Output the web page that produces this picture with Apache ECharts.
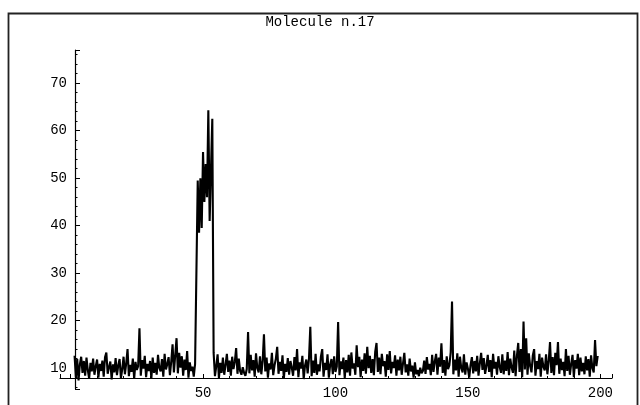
<!DOCTYPE html>
<html>
<head>
<meta charset="utf-8">
<script src="https://cdn.jsdelivr.net/npm/echarts@6/dist/echarts.min.js"></script>
<style>
  html, body { margin: 0; padding: 0; background: #fff; }
  #chart { width: 640px; height: 405px; }
</style>
</head>
<body>
<div id="chart"></div>
<script>
// Sampling grid of the trace: x = X_START + i * X_STEP
const X_START = 1.5;
const X_STEP = 0.5;

// Signal before the burst (x = 1.5 .. 47.5)
const signalBefore = [
  12.6, 8.1, 11.9, 7.4, 10.8, 12.4, 9.0, 11.5, 8.4, 12.2, 9.6, 7.8, 11.1, 9.3, 12.0, 8.6, 10.4, 11.8, 8.0, 10.9,
  9.4, 11.6, 8.2, 12.3, 13.3, 8.8, 10.2, 11.4, 7.6, 10.8, 9.1, 12.1, 8.5, 10.6, 11.9, 7.9, 9.8, 12.4, 8.7, 11.0,
  14.0, 8.3, 10.7, 9.2, 12.0, 7.7, 11.3, 9.6, 10.4, 18.4, 8.4, 11.7, 9.9, 12.6, 8.1, 10.9, 9.4, 11.5, 7.8, 12.2,
  9.0, 11.1, 8.6, 12.8, 10.0, 9.3, 11.9, 8.2, 13.0, 9.7, 10.8, 12.3, 8.5, 11.4, 15.0, 9.1, 12.7, 16.3, 8.9, 13.2,
  10.1, 12.5, 8.4, 11.8, 9.6, 13.6, 8.0, 11.2, 9.4, 10.3, 8.2, 10.9, 11.0
];

// The burst (x = 48 .. 53.5)
const signalBurst = [
  49.5, 38.5, 50.0, 39.5, 55.5, 45.0, 53.0, 46.0, 64.3, 41.0, 52.0, 62.5
];

// Signal after the burst (x = 54 .. 199)
const signalAfter = [
  13.2, 8.3, 10.4, 12.9, 7.9, 11.1, 9.0, 12.2, 8.6, 10.7, 13.0, 9.2, 11.6, 8.4, 12.4, 9.8, 11.3, 14.2, 8.8, 12.0,
  9.4, 8.6, 10.2, 9.0, 8.4, 9.8, 17.6, 8.9, 12.8, 9.5, 11.7, 8.2, 13.1, 10.0, 9.1, 12.5, 8.7, 11.4, 17.1, 9.3,
  12.2, 8.0, 11.0, 9.7, 13.2, 8.5, 10.6, 12.0, 14.5, 8.8, 11.3, 9.4, 12.7, 7.8, 10.9, 9.2, 12.1, 8.6, 11.5, 10.1,
  8.4, 12.3, 9.5, 14.0, 8.1, 11.2, 9.9, 12.6, 7.7, 10.5, 11.8, 8.9, 12.0, 18.7, 8.3, 11.6, 9.0, 13.0, 8.6, 10.8,
  9.3, 12.4, 14.0, 8.2, 11.1, 9.6, 12.9, 8.0, 10.7, 11.9, 8.7, 12.5, 9.2, 10.3, 19.7, 8.5, 11.4, 9.8, 12.2, 7.9,
  11.7, 9.1, 12.8, 8.4, 13.3, 9.9, 11.0, 8.6, 14.8, 10.2, 12.4, 8.1, 11.8, 9.4, 13.1, 8.8, 14.5, 10.0, 12.6, 9.0,
  11.9, 8.5, 13.4, 15.3, 9.2, 12.2, 8.7, 13.0, 10.4, 11.5, 8.2, 12.9, 9.6, 13.6, 8.9, 11.3, 10.0, 12.7, 8.4, 11.8,
  9.5, 12.4, 8.6, 11.0, 13.2, 9.1, 10.8, 8.4, 12.0, 9.3, 10.5, 8.0, 11.2, 8.7, 9.6, 8.3, 10.1, 8.9, 9.4, 11.6,
  8.8, 12.3, 9.7, 10.9, 8.5, 12.8, 9.2, 11.4, 13.0, 8.6, 12.2, 10.3, 15.2, 9.0, 11.7, 8.4, 12.5, 9.8, 10.6, 13.3,
  24.0, 8.7, 11.8, 9.5, 13.1, 8.2, 12.4, 10.0, 9.1, 12.9, 8.6, 11.2, 9.9, 8.0, 10.7, 12.3, 8.9, 11.5, 9.3, 12.6,
  8.4, 11.0, 13.2, 9.6, 12.1, 8.8, 10.5, 12.8, 9.2, 11.7, 8.1, 13.0, 9.9, 11.3, 8.6, 12.5, 10.2, 9.0, 12.9, 8.7,
  11.6, 9.4, 13.4, 8.5, 12.0, 10.1, 9.0, 13.7, 8.3, 12.6, 15.3, 9.2, 14.0, 8.1, 19.8, 9.7, 16.3, 8.6, 13.1, 10.4,
  9.1, 12.7, 14.0, 8.4, 11.5, 9.8, 13.0, 8.2, 12.2, 10.3, 9.5, 12.9, 8.7, 11.4, 15.5, 9.0, 12.3, 8.5, 13.2, 10.6,
  15.5, 8.8, 12.0, 9.6, 11.3, 8.3, 14.0, 9.4, 12.6, 8.6, 10.9, 12.8, 8.1, 11.7, 9.9, 13.0, 8.5, 12.2, 9.3, 11.1,
  8.7, 12.5, 9.5, 11.9, 8.2, 12.7, 10.0, 9.1, 15.9, 10.4, 12.6
];

const TITLE = 'Molecule n.17';
const X_LABELS = [50, 100, 150, 200];
const Y_LABELS = [10, 20, 30, 40, 50, 60, 70];

const values = signalBefore.concat(signalBurst, signalAfter);
const points = values.map((v, i) => [X_START + i * X_STEP, v]);

const FONT = 'Liberation Mono';

const chart = echarts.init(document.getElementById('chart'), null, { renderer: 'canvas' });
chart.setOption({
  animation: false,
  backgroundColor: '#fff',
  title: {
    text: TITLE,
    left: 'center',
    top: 10,
    textStyle: { fontFamily: FONT, fontSize: 14, fontWeight: 'normal', color: '#000' }
  },
  graphic: [{
    type: 'rect',
    shape: { x: 8.5, y: 13.5, width: 629, height: 400 },
    style: { fill: 'none', stroke: '#222', lineWidth: 1.8 },
    silent: true
  }],
  grid: { left: 60, right: 28, top: 50, bottom: 16, containLabel: false },
  xAxis: {
    type: 'value',
    min: -4,
    max: 204.4,
    offset: -11,
    splitNumber: 4,
    splitLine: { show: false },
    axisLine: { lineStyle: { color: '#000', width: 1.2 } },
    axisTick: { inside: true, length: 4, lineStyle: { color: '#000' } },
    minorTick: { show: true, splitNumber: 5, length: 2, lineStyle: { color: '#000' } },
    axisLabel: {
      margin: 8,
      fontFamily: FONT, fontSize: 14, color: '#000',
      showMinLabel: false, showMaxLabel: false,
      formatter: v => (X_LABELS.indexOf(v) >= 0 ? String(v) : '')
    }
  },
  yAxis: {
    type: 'value',
    min: 5.6,
    max: 77,
    offset: -15,
    splitNumber: 7,
    splitLine: { show: false },
    axisLine: { show: true, lineStyle: { color: '#000', width: 1.2 } },
    axisTick: { show: true, inside: true, length: 5, lineStyle: { color: '#000' } },
    minorTick: { show: true, splitNumber: 5, length: 2.5, lineStyle: { color: '#000' } },
    axisLabel: {
      margin: 8,
      fontFamily: FONT, fontSize: 14, color: '#000',
      showMinLabel: false, showMaxLabel: false,
      formatter: v => (Y_LABELS.indexOf(v) >= 0 ? String(v) : '')
    }
  },
  series: [{
    type: 'line',
    data: points,
    showSymbol: false,
    symbol: 'none',
    lineStyle: { color: '#000', width: 2.1, join: 'miter', miterLimit: 2 },
    clip: false
  }]
});
</script>
</body>
</html>
